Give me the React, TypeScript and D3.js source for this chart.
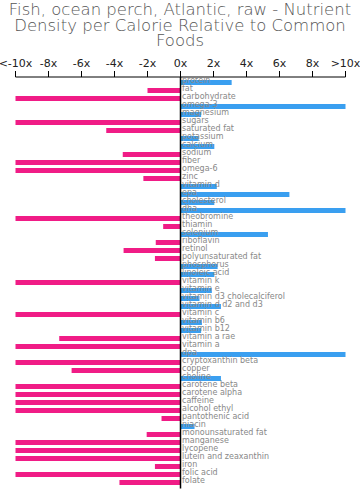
import React from "react";
import * as d3 from "d3";

const nutrients = [
  "protein", "fat", "carbohydrate", "omega-3", "magnesium", "sugars", "saturated fat",
  "potassium", "calcium", "sodium", "fiber", "omega-6", "zinc", "vitamin d", "epa",
  "cholesterol", "dha", "theobromine", "thiamin", "selenium", "riboflavin", "retinol",
  "polyunsaturated fat", "phosphorus", "linoleic acid", "vitamin k", "vitamin e",
  "vitamin d3 cholecalciferol", "vitamin d d2 and d3", "vitamin c", "vitamin b6",
  "vitamin b12", "vitamin a rae", "vitamin a", "dpa", "cryptoxanthin beta", "copper",
  "choline", "carotene beta", "carotene alpha", "caffeine", "alcohol ethyl",
  "pantothenic acid", "niacin", "monounsaturated fat", "manganese", "lycopene",
  "lutein and zeaxanthin", "iron", "folic acid", "folate",
];

const values = [
  3.1, -2.0, -10, 10, 1.25, -10, -4.5,
  1.1, 2.05, -3.5, -10, -10, -2.25, 2.2, 6.6,
  2.05, 10, -10, -1.05, 5.3, -1.5, -3.45,
  -1.55, 2.25, 2.05, -10, 1.9,
  1.15, 2.45, -10, 1.3,
  1.25, -7.35, -10, 10, -10, -6.6,
  2.45, -10, -10, -10, -10,
  -1.15, 0.85, -2.05, -10, -10,
  -10, -1.55, -10, -3.7,
];

const tickValues = [-10, -8, -6, -4, -2, 0, 2, 4, 6, 8, 10];
const tickLabels = ["<-10x", "-8x", "-6x", "-4x", "-2x", "0x", "2x", "4x", "6x", "8x", ">10x"];
const titleLines = [
  "Fish, ocean perch, Atlantic, raw - Nutrient",
  "Density per Calorie Relative to Common",
  "Foods",
];

const W = 360;
const H = 498;

export default function App() {
  const x = d3.scaleLinear().domain([-10, 10]).range([15.5, 345.5]);
  const y = d3.scaleBand<string>().domain(nutrients).range([80, 80 + 8 * nutrients.length]);
  const axisY = 77;
  const font = "DejaVu Sans, sans-serif";
  return (
    <svg width={W} height={H} style={{ position: "absolute", left: 0, top: 0 }}>
      <rect width={W} height={H} fill="#fff" />
      {titleLines.map((t, i) => (
        <text key={i} x={180} y={15 + i * 15.6} textAnchor="middle" fontFamily={font} fontWeight={200} fontSize={16.5} fill="#555">
          {t}
        </text>
      ))}
      {tickValues.map((v, i) => (
        <g key={v}>
          <line x1={x(v)} x2={x(v)} y1={axisY - 6} y2={axisY} stroke="#000" strokeWidth={1} />
          <text x={x(v)} y={67} textAnchor="middle" fontFamily={font} fontSize={11} fill="#222">
            {tickLabels[i]}
          </text>
        </g>
      ))}
      <line x1={x(-10)} x2={x(10)} y1={axisY} y2={axisY} stroke="#000" strokeWidth={1} />
      {nutrients.map((n, i) => {
        const v = values[i];
        const x0 = x(Math.min(0, v));
        const x1 = x(Math.max(0, v));
        return (
          <rect key={n} x={x0} y={y(n)!} width={x1 - x0} height={5} fill={v < 0 ? "#f01c86" : "#3a9ff0"} />
        );
      })}
      {nutrients.map((n) => (
        <text key={n} x={182} y={y(n)! + 3} fontFamily={font} fontSize={8} fill="#888">
          {n}
        </text>
      ))}
      <line x1={x(0)} x2={x(0)} y1={axisY} y2={y.range()[1] + 0.5} stroke="#000" strokeWidth={1.5} />
    </svg>
  );
}
